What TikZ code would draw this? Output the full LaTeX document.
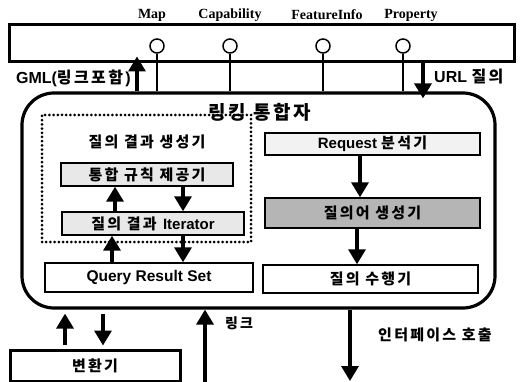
\documentclass[tikz,border=0pt]{standalone}
\usepackage{fontspec}
\setmainfont{Liberation Sans}
\newfontfamily\kr{Noto Sans CJK KR}[LetterSpace=15]
\newfontfamily\tnr{Liberation Serif}
\usetikzlibrary{arrows.meta}
\newcommand\K[1]{{\kr\bfseries #1}}
\begin{document}
\begin{tikzpicture}[x=1pt,y=-1pt,
  box/.style={draw, line width=1.4pt, inner sep=0pt},
  arr/.style={line width=3.4pt, -{Triangle[width=17pt,length=15pt]}},
  port/.style={draw, circle, fill=white, line width=1.5pt, minimum size=14, inner sep=0pt},
  stem/.style={line width=2pt},
  toplab/.style={font=\tnr\bfseries\fontsize{14}{14}\selectfont, inner sep=0pt},
  klab/.style={inner sep=0pt, font=\fontsize{15}{15}\selectfont}]
\useasboundingbox (0,0) rectangle (522,382);

% top interface bar
\node[draw, line width=3pt, minimum width=505, minimum height=37, inner sep=0pt] (bar) at (261.5,43.5) {};
% integrator
\node[draw, line width=3.2pt, rounded corners=32, minimum width=473, minimum height=215, inner sep=0pt] (integ) at (258.5,200.5) {};

% ports
\node[port] (p1) at (157,46) {};
\node[port] (p2) at (230,46) {};
\node[port] (p3) at (323,46) {};
\node[port] (p4) at (403,46) {};
\foreach \p in {p1,p2,p3,p4} \draw[stem] (\p.south) -- (\p.south |- integ.north);

\node[toplab] (l1) at (152,15) {Map};
\node[toplab] (l2) at (230,15) {Capability};
\node[toplab] (l3) at (327,15) {FeatureInfo};
\node[toplab] (l4) at (411,15) {Property};

% top arrows
\coordinate (gx) at (137,0);
\coordinate (ux) at (423,0);
\draw[arr, shorten >=-7pt] (integ.north -| gx) -- (bar.south -| gx);
\draw[arr, shorten >=-7pt] (bar.south -| ux) -- (integ.north -| ux);
\node[klab, anchor=east, font=\fontsize{16}{16}\selectfont] (gml) at (131,78) {\textbf{GML(}\K{링크포함}\textbf{)}};
\node[klab, anchor=west, font=\fontsize{16}{16}\selectfont] (url) at (434,77) {\textbf{URL} \K{질의}};

% title
\node[klab, font=\fontsize{19}{19}\selectfont] (title) at (260,112) {\K{링킹}\hspace{7pt}\K{통합자}};

% dotted group
\node[draw, line width=3pt, dash pattern=on 0pt off 4.2pt, line cap=round, minimum width=209, minimum height=127, inner sep=0pt] (grp) at (146.5,178.5) {};
\node[klab] (gt) at (147,142) {\K{질의 결과 생성기}};

\node[box, fill=gray!18, minimum width=172, minimum height=23, font=\fontsize{15}{15}\selectfont] (rule) at (147,174.5) {\K{통합 규칙 제공기}};
\node[box, fill=gray!18, minimum width=182, minimum height=23, font=\fontsize{15}{15}\selectfont] (iter) at (153,223.5) {\K{질의 결과} \textbf{Iterator}};
\node[box, minimum width=208, minimum height=29, font=\fontsize{15.5}{15.5}\selectfont] (qrs) at (149,277.5) {\textbf{Query Result Set}};

\node[box, fill=gray!10, minimum width=215, minimum height=22, font=\fontsize{15}{15}\selectfont] (req) at (372.5,144) {\textbf{Request} \K{분석기}};
\node[box, fill=gray!58, minimum width=215, minimum height=30, font=\fontsize{15}{15}\selectfont] (gen) at (372.5,213) {\K{질의어 생성기}};
\node[box, minimum width=215, minimum height=28, font=\fontsize{15}{15}\selectfont] (exe) at (370.5,279) {\K{질의 수행기}};

\node[draw, line width=3pt, minimum width=170, minimum height=31, inner sep=0pt, font=\fontsize{15}{15}\selectfont] (conv) at (95,365.5) {\K{변환기}};

% inner arrows
\coordinate (a1) at (115,0);
\coordinate (a2) at (183,0);
\coordinate (a3) at (112,0);
\coordinate (a4) at (360,0);
\coordinate (a5) at (357,0);
\draw[arr] (iter.north -| a1) -- (rule.south -| a1);
\draw[arr] (rule.south -| a2) -- (iter.north -| a2);
\draw[arr] (qrs.north -| a3) -- (iter.south -| a3);
\draw[arr] (iter.south -| a2) -- (qrs.north -| a2);
\draw[arr] (req.south -| a4) -- (gen.north -| a4);
\draw[arr] (gen.south -| a5) -- (exe.north -| a5);

% bottom arrows
\coordinate (b1) at (65,0);
\coordinate (b2) at (103,0);
\draw[arr, shorten <=4pt, shorten >=4pt] (conv.north -| b1) -- (integ.south -| b1);
\draw[arr, shorten <=4pt, shorten >=3pt] (integ.south -| b2) -- (conv.north -| b2);
\coordinate (lk) at (205,382);
\coordinate (ifc) at (350,381);
\draw[arr] (lk) -- (integ.south -| lk);
\draw[arr] (integ.south -| ifc) -- (ifc);
\node[klab, font=\fontsize{14}{14}\selectfont] (lkl) at (239,323) {\K{링크}};
\node[klab] (ifl) at (435,335) {\K{인터페이스 호출}};
\end{tikzpicture}
\end{document}
